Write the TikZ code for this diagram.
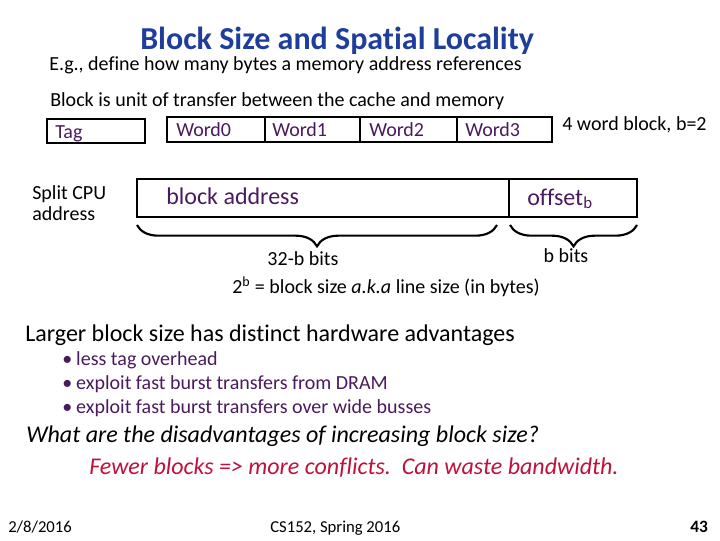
\documentclass[tikz,border=0pt]{standalone}
\usepackage{fontspec}
\setmainfont{Carlito}[Ligatures=NoCommon]
\usetikzlibrary{decorations.pathreplacing}
\definecolor{ttl}{HTML}{1F3E9C}
\definecolor{pur}{HTML}{4A1A5E}
\definecolor{red1}{HTML}{C0103C}
\newcommand{\mybul}{\makebox[10.5pt][l]{\textbullet}}
\tikzset{
  txt/.style={anchor=base west, inner sep=0pt, font=\fontsize{15}{17}\selectfont},
  ptxt/.style={txt, text=pur},
  bx/.style={draw=black, line width=2.2pt},
  brc/.style={decorate, decoration={brace, mirror, amplitude=16pt}, line width=1.6pt}
}
\begin{document}
\begin{tikzpicture}[x=0.75pt,y=-0.75pt]
\useasboundingbox (0,0) rectangle (720,540);
\node[txt, font=\fontsize{24}{28}\selectfont\bfseries, text=ttl] (title) at (140,49) {Block Size and Spatial Locality};
\node[txt] (eg) at (49,70) {E.g., define how many bytes a memory address references};
\node[txt] (unit) at (50,106) {Block is unit of transfer between the cache and memory};
% Tag box
\draw[bx] (47,119) rectangle (145,143);
\node[ptxt] (tag) at (55,138) {Tag};
% Word boxes
\draw[bx] (167,117) rectangle (552,142);
\draw[bx] (265,117) -- (265,142);
\draw[bx] (360,117) -- (360,142);
\draw[bx] (457,117) -- (457,142);
\node[ptxt] (w0) at (176,136) {Word0};
\node[ptxt] (w1) at (272,136) {Word1};
\node[ptxt] (w2) at (369,136) {Word2};
\node[ptxt] (w3) at (465,136) {Word3};
\node[txt] (four) at (562,130) {4 word block, b=2};
% Split CPU address
\node[txt, align=left, anchor=north west] (split) at (32,185) {Split CPU\\[-1pt]address};
\draw[bx] (137,179) rectangle (637,217);
\draw[bx] (509,179) -- (509,217);
\node[ptxt, font=\fontsize{18}{21}\selectfont] (ba) at (166,204) {block address};
\node[ptxt, font=\fontsize{18}{21}\selectfont] (off) at (527,205) {offset\textsubscript{b}};
% braces
\draw[brc] (137,225) -- (497,225);
\draw[brc] (510,225) -- (637,225);
\node[txt, anchor=base] (n32) at (303,265) {32-b bits};
\node[txt, anchor=base] (nb) at (566,262) {b bits};
\node[txt] (two) at (232,293) {2\textsuperscript{b} = block size \textit{a.k.a} line size (in bytes)};
% advantages
\node[txt, font=\fontsize{18}{21}\selectfont] (larger) at (25,341) {Larger block size has distinct hardware advantages};
\node[ptxt] (b1) at (62,365) {\mybul less tag overhead};
\node[ptxt] (b2) at (62,389) {\mybul exploit fast burst transfers from DRAM};
\node[ptxt] (b3) at (62,413) {\mybul exploit fast burst transfers over wide busses};
\node[txt, font=\fontsize{18}{21}\selectfont\itshape] (what) at (26,442) {What are the disadvantages of increasing block size?};
\node[txt, font=\fontsize{18}{21}\selectfont\itshape, text=red1] (fewer) at (89,474) {Fewer blocks => more conflicts.\ \ Can waste bandwidth.};
% footer
\node[txt, font=\fontsize{12.5}{14}\selectfont] (date) at (8,532) {2/8/2016};
\node[txt, font=\fontsize{12.5}{14}\selectfont] (cs) at (270,532) {CS152, Spring 2016};
\node[txt, font=\fontsize{13}{14}\selectfont\bfseries] (pg) at (690,532) {43};
\end{tikzpicture}
\end{document}
